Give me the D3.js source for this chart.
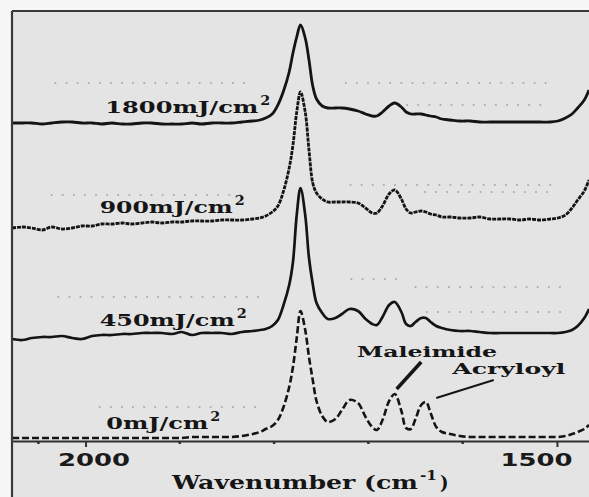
<!DOCTYPE html>
<html>
<head>
<meta charset="utf-8">
<script src="https://cdn.jsdelivr.net/npm/d3@7"></script>
<style>
  html, body { margin: 0; padding: 0; background: #f7f7f7; }
  svg { display: block; }
</style>
</head>
<body>
<svg id="chart" width="589" height="497"></svg>
<script>
// Wavenumber grid (cm-1), shared by all spectra
const wavenumbers = [
  2078, 2067, 2057, 2046, 2036, 2025, 2014, 2004, 1993, 1983, 1972, 1961,
  1951, 1940, 1930, 1919, 1908, 1898, 1887, 1877, 1866, 1855, 1845, 1834,
  1823, 1815, 1809, 1802, 1796, 1790, 1784, 1780, 1776, 1772,
  1767, 1763, 1759, 1755, 1749, 1743, 1735, 1728, 1720, 1711,
  1703, 1696, 1691, 1685, 1678, 1672, 1665, 1660, 1655, 1650,
  1644, 1639, 1634, 1628, 1622, 1613, 1603, 1592, 1582, 1571,
  1560, 1550, 1539, 1529, 1518, 1507, 1499, 1491, 1484, 1478,
  1471, 1466
];

// Absorbance (a.u., vertically offset) for each exposure dose
const dose1800 = [
  3.18, 3.18, 3.18, 3.17, 3.18, 3.19, 3.19, 3.18, 3.18, 3.17, 3.18, 3.17,
  3.17, 3.18, 3.18, 3.17, 3.17, 3.17, 3.18, 3.17, 3.18, 3.18, 3.18, 3.19,
  3.20, 3.21, 3.23, 3.27, 3.36, 3.50, 3.69, 3.88, 4.04, 4.16,
  4.03, 3.81, 3.55, 3.42, 3.35, 3.33, 3.33, 3.33, 3.32, 3.30,
  3.27, 3.25, 3.25, 3.29, 3.35, 3.38, 3.34, 3.29, 3.27, 3.27,
  3.27, 3.26, 3.25, 3.24, 3.22, 3.21, 3.20, 3.20, 3.19, 3.19,
  3.19, 3.19, 3.19, 3.19, 3.19, 3.19, 3.20, 3.23, 3.27, 3.33,
  3.41, 3.51
];
const dose900 = [
  2.13, 2.14, 2.13, 2.11, 2.14, 2.12, 2.13, 2.15, 2.15, 2.17, 2.17, 2.18,
  2.17, 2.18, 2.19, 2.18, 2.19, 2.19, 2.20, 2.20, 2.20, 2.21, 2.21, 2.21,
  2.22, 2.23, 2.25, 2.29, 2.35, 2.50, 2.73, 2.96, 3.29, 3.49,
  3.29, 2.91, 2.58, 2.48, 2.42, 2.39, 2.39, 2.39, 2.39, 2.38,
  2.33, 2.28, 2.28, 2.35, 2.47, 2.51, 2.42, 2.32, 2.28, 2.29,
  2.30, 2.29, 2.27, 2.26, 2.24, 2.24, 2.23, 2.23, 2.24, 2.22,
  2.22, 2.22, 2.21, 2.22, 2.21, 2.22, 2.23, 2.26, 2.33, 2.41,
  2.50, 2.61
];
const dose450 = [
  1.02, 1.01, 1.03, 1.04, 1.04, 1.05, 1.03, 1.02, 1.05, 1.06, 1.06, 1.07,
  1.07, 1.08, 1.08, 1.08, 1.07, 1.09, 1.06, 1.08, 1.08, 1.08, 1.07, 1.09,
  1.10, 1.11, 1.12, 1.15, 1.21, 1.36, 1.56, 1.79, 2.26, 2.53,
  2.26, 1.83, 1.57, 1.38, 1.28, 1.22, 1.23, 1.27, 1.32, 1.30,
  1.22, 1.17, 1.16, 1.24, 1.36, 1.39, 1.29, 1.17, 1.15, 1.19,
  1.23, 1.23, 1.19, 1.15, 1.13, 1.11, 1.10, 1.10, 1.09, 1.08,
  1.08, 1.08, 1.08, 1.08, 1.08, 1.08, 1.08, 1.09, 1.11, 1.15,
  1.23, 1.32
];
const dose0 = [
  0.03, 0.03, 0.03, 0.03, 0.03, 0.03, 0.03, 0.03, 0.03, 0.03, 0.03, 0.03,
  0.03, 0.03, 0.03, 0.03, 0.03, 0.03, 0.04, 0.04, 0.04, 0.04, 0.04, 0.05,
  0.07, 0.09, 0.12, 0.15, 0.21, 0.34, 0.54, 0.74, 1.03, 1.30,
  1.11, 0.84, 0.61, 0.40, 0.25, 0.19, 0.22, 0.31, 0.41, 0.38,
  0.24, 0.14, 0.11, 0.21, 0.40, 0.47, 0.30, 0.13, 0.12, 0.22,
  0.36, 0.39, 0.28, 0.14, 0.09, 0.07, 0.05, 0.04, 0.04, 0.04,
  0.04, 0.04, 0.04, 0.04, 0.04, 0.04, 0.04, 0.05, 0.07, 0.09,
  0.12, 0.16
];

// Dose labels (wavenumber, absorbance level of the text baseline)
const doseLabels = ["1800mJ/cm", "900mJ/cm", "450mJ/cm", "0mJ/cm"];
const doseLabelAt = [[1979, 3.28], [1985, 2.28], [1985, 1.15], [1978, 0.12]];

// Axis ticks
const majorTicks = [2000, 1500];
const minorTicks = [2050, 1900, 1800, 1700, 1600];

// Faint dotted guide rows: [from wavenumber, to wavenumber, level]
const guideRows = [
  [2032, 1828, 3.58], [1724, 1501, 3.58], [1659, 1508, 3.36],
  [2036, 1829, 2.46], [1719, 1502, 2.56], [1640, 1502, 2.49],
  [2029, 1815, 1.44], [1718, 1670, 1.62], [1650, 1495, 1.54], [1638, 1489, 1.29],
  [1985, 1818, 0.34]
];

// Band annotations: label, label anchor, leader line start and end
const bandNames = ["Maleimide", "Acryloyl"];
const bandLabelAt = [[1712, 0.84], [1611, 0.67]];
const bandLeaders = [[[1644, 0.79], [1670, 0.52]], [[1567, 0.61], [1628, 0.43]]];

const W = 589, H = 497;
const plotLeft = 12, plotTop = 11, axisY = 441;

const svg = d3.select("#chart");

const x = d3.scaleLinear().domain([2078, 1466]).range([plotLeft, W]);
const y = d3.scaleLinear().domain([0, 4.3]).range([axisY, plotTop]);

// plot panel
svg.append("rect")
  .attr("x", plotLeft).attr("y", plotTop)
  .attr("width", W - plotLeft + 2).attr("height", H - plotTop + 2)
  .attr("fill", "#e4e4e4");

// dotted guide rows
svg.append("g").selectAll("line").data(guideRows).join("line")
  .attr("x1", d => x(d[0])).attr("x2", d => x(d[1]))
  .attr("y1", d => y(d[2])).attr("y2", d => y(d[2]))
  .attr("stroke", "#ababab")
  .attr("stroke-width", 2)
  .attr("stroke-linecap", "round")
  .attr("stroke-dasharray", "0.1,11");

// spectra
const spectra = [
  { values: dose1800, dash: null, width: 2.8 },
  { values: dose900, dash: "4,1", width: 2.8 },
  { values: dose450, dash: null, width: 2.7 },
  { values: dose0, dash: "7,3", width: 2.6 }
];

const line = d3.line()
  .x((d, i) => x(wavenumbers[i]))
  .y(d => y(d))
  .curve(d3.curveCatmullRom.alpha(0.5));

svg.append("g").selectAll("path").data(spectra).join("path")
  .attr("d", d => line(d.values))
  .attr("fill", "none")
  .attr("stroke", "#141414")
  .attr("stroke-width", d => d.width)
  .attr("stroke-linejoin", "round")
  .attr("stroke-dasharray", d => d.dash);

// dose labels with superscript
const labelWidths = [153, 133, 135, 102];
const lab = svg.append("g")
  .attr("font-family", "'DejaVu Serif', serif")
  .attr("font-weight", "bold")
  .attr("fill", "#151515");
doseLabels.forEach((t, i) => {
  const lx = x(doseLabelAt[i][0]), ly = y(doseLabelAt[i][1]);
  lab.append("text")
    .attr("x", lx).attr("y", ly)
    .attr("font-size", 16)
    .attr("textLength", labelWidths[i])
    .attr("lengthAdjust", "spacingAndGlyphs")
    .text(t);
  lab.append("text")
    .attr("x", lx + labelWidths[i] + 2).attr("y", ly - 8)
    .attr("font-size", 12)
    .attr("textLength", 10)
    .attr("lengthAdjust", "spacingAndGlyphs")
    .text("2");
});

// band annotations
const bandWidths = [140, 113];
const bandStroke = [3.5, 2];
bandNames.forEach((t, i) => {
  svg.append("text")
    .attr("x", x(bandLabelAt[i][0])).attr("y", y(bandLabelAt[i][1]))
    .attr("font-family", "'DejaVu Serif', serif")
    .attr("font-weight", "bold")
    .attr("font-size", 14)
    .attr("fill", "#151515")
    .attr("textLength", bandWidths[i])
    .attr("lengthAdjust", "spacingAndGlyphs")
    .text(t);
  const [a, b] = bandLeaders[i];
  svg.append("line")
    .attr("x1", x(a[0])).attr("y1", y(a[1]))
    .attr("x2", x(b[0])).attr("y2", y(b[1]))
    .attr("stroke", "#151515")
    .attr("stroke-width", bandStroke[i]);
});

// x axis
const axis = d3.axisBottom(x)
  .tickValues(majorTicks)
  .tickSize(6)
  .tickSizeOuter(0)
  .tickPadding(6)
  .tickFormat(d3.format("d"));
const gx = svg.append("g").attr("transform", `translate(0,${axisY})`).call(axis);
gx.select(".domain").attr("stroke", "#303030").attr("stroke-width", 2);
gx.selectAll(".tick line").attr("stroke", "#303030").attr("stroke-width", 2);
gx.selectAll(".tick text")
  .attr("font-family", "'DejaVu Sans', sans-serif")
  .attr("font-weight", "bold")
  .attr("font-size", 18)
  .attr("fill", "#1a1a1a")
  .attr("textLength", 72)
  .attr("lengthAdjust", "spacingAndGlyphs")
  .attr("dx", d => d === 2000 ? 8 : -21);

svg.append("g").selectAll("line").data(minorTicks).join("line")
  .attr("x1", d => x(d)).attr("x2", d => x(d))
  .attr("y1", axisY).attr("y2", axisY + 3)
  .attr("stroke", "#303030").attr("stroke-width", 2.5);

// frame: top and left edges
svg.append("line").attr("x1", plotLeft).attr("x2", W).attr("y1", plotTop).attr("y2", plotTop)
  .attr("stroke", "#3a3a3a").attr("stroke-width", 2.2);
svg.append("line").attr("x1", plotLeft).attr("x2", plotLeft).attr("y1", plotTop).attr("y2", H)
  .attr("stroke", "#3a3a3a").attr("stroke-width", 2.2);

// axis title
const title = svg.append("g")
  .attr("font-family", "'DejaVu Serif', serif")
  .attr("font-weight", "bold")
  .attr("fill", "#151515");
title.append("text").attr("x", 172).attr("y", 489)
  .attr("font-size", 18)
  .attr("textLength", 246).attr("lengthAdjust", "spacingAndGlyphs")
  .text("Wavenumber (cm");
title.append("text").attr("x", 420).attr("y", 480)
  .attr("font-size", 12)
  .attr("textLength", 17).attr("lengthAdjust", "spacingAndGlyphs")
  .text("-1");
title.append("text").attr("x", 440).attr("y", 489)
  .attr("font-size", 18)
  .text(")");
</script>
</body>
</html>
